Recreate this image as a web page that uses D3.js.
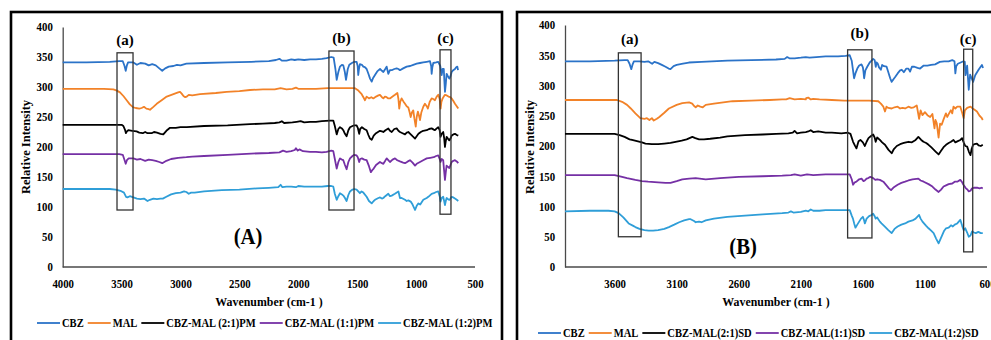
<!DOCTYPE html>
<html><head><meta charset="utf-8">
<script src="https://cdn.jsdelivr.net/npm/d3@7"></script>
<style>
body{margin:0;background:#fff;}
svg{display:block;}
text{font-family:"Liberation Serif","Times New Roman",serif;font-weight:bold;fill:#000;}
</style></head><body>
<svg id="c" width="991" height="340"></svg>
<script>
// ---------------- DATA ----------------
const yTicks = [0,50,100,150,200,250,300,350,400];
const xTicksA = [4000,3500,3000,2500,2000,1500,1000,500];
const xTicksB = [3600,3100,2600,2100,1600,1100,600];
const legendA = ["CBZ","MAL","CBZ-MAL (2:1)PM","CBZ-MAL (1:1)PM","CBZ-MAL (1:2)PM"];
const legendB = ["CBZ","MAL","CBZ-MAL(2:1)SD","CBZ-MAL(1:1)SD","CBZ-MAL(1:2)SD"];
const seriesColors = ["#2B73C8","#F28228","#000000","#7530A5","#2F9ED8"];

// Panel A: physical mixtures  [wavenumber, intensity]
const cbzPM = [[4000,341],[3800,341],[3600,342],[3520,343],[3490,343],[3475,335],[3465,327],[3455,336],[3445,341],[3400,341],[3370,337],[3340,340],[3300,339],[3270,336],[3240,338],[3210,336],[3180,331],[3155,327],[3130,331],[3100,334],[3060,335],[3030,337],[3000,336],[2950,339],[2800,340],[2600,341],[2400,342],[2250,343],[2190,345],[2160,347],[2140,344],[2100,344],[2060,346],[2030,345],[2000,346],[1950,345],[1900,346],[1850,346],[1800,347],[1760,348],[1720,350],[1700,349],[1685,330],[1674,312],[1660,325],[1646,334],[1630,337],[1618,336],[1605,325],[1595,312],[1580,330],[1567,337],[1545,340],[1525,342],[1505,342],[1496,335],[1491,320],[1485,330],[1477,338],[1460,337],[1448,334],[1435,333],[1420,330],[1405,322],[1391,314],[1377,309],[1365,315],[1349,320],[1330,326],[1306,330],[1290,327],[1278,325],[1262,330],[1250,334],[1236,322],[1222,328],[1207,328],[1185,330],[1165,331],[1150,330],[1137,328],[1110,331],[1080,334],[1050,335],[1024,337],[995,339],[967,340],[940,341],[910,342],[882,343],[872,335],[868,322],[862,333],[854,340],[830,341],[812,342],[795,335],[783,320],[775,330],[765,330],[760,310],[755,292],[748,305],[741,322],[730,318],[718,314],[708,318],[698,325],[685,328],[670,330],[660,333],[650,334],[644,328]];
const malPM = [[4000,297],[3800,297],[3650,297],[3570,296],[3540,294],[3514,291],[3485,285],[3457,278],[3430,271],[3401,266],[3380,265],[3350,264],[3330,265],[3310,267],[3290,264],[3270,263],[3259,262],[3235,266],[3202,272],[3160,278],[3117,284],[3060,288],[3020,291],[3004,292],[2990,289],[2975,285],[2960,283],[2947,284],[2930,287],[2900,286],[2834,288],[2700,290],[2608,292],[2500,293],[2410,295],[2300,296],[2200,296],[2150,298],[2100,296],[2050,297],[2020,299],[2000,297],[1950,297],[1850,297],[1750,298],[1650,298],[1550,298],[1519,298],[1490,294],[1462,288],[1445,282],[1434,278],[1420,284],[1400,281],[1380,283],[1363,281],[1340,284],[1320,286],[1307,287],[1290,283],[1278,281],[1265,284],[1250,283],[1236,281],[1222,281],[1200,284],[1179,287],[1159,290],[1150,280],[1143,264],[1135,275],[1123,281],[1108,276],[1094,272],[1080,268],[1066,266],[1055,258],[1046,250],[1035,258],[1024,261],[1015,248],[1003,234],[995,250],[985,259],[975,252],[967,245],[955,258],[939,267],[925,272],[910,268],[900,264],[885,275],[868,281],[855,280],[840,278],[825,284],[812,287],[800,280],[792,264],[785,275],[775,281],[765,284],[755,287],[740,286],[725,284],[710,283],[698,281],[685,277],[670,272],[655,268],[642,264]];
const pm21 = [[4000,237],[3800,237],[3600,237],[3500,237],[3485,235],[3470,228],[3463,223],[3455,226],[3443,228],[3410,227],[3373,226],[3350,224],[3320,223],[3300,225],[3280,223],[3260,223],[3245,223],[3225,225],[3200,224],[3170,222],[3146,221],[3120,227],[3089,232],[3040,232],[3000,233],[2947,233],[2800,235],[2600,236],[2410,238],[2300,239],[2200,240],[2160,241],[2140,243],[2120,240],[2050,241],[2014,242],[1980,243],[1950,241],[1900,242],[1850,242],[1800,243],[1731,244],[1703,244],[1690,235],[1674,221],[1660,230],[1646,233],[1630,231],[1618,228],[1604,222],[1590,218],[1575,228],[1561,233],[1540,235],[1525,236],[1505,236],[1495,232],[1483,222],[1475,230],[1460,233],[1440,230],[1420,228],[1405,220],[1391,214],[1377,212],[1360,219],[1340,223],[1307,227],[1290,226],[1278,225],[1260,228],[1236,231],[1222,227],[1207,225],[1185,230],[1165,231],[1150,227],[1137,225],[1115,223],[1094,221],[1080,224],[1066,225],[1050,222],[1030,218],[1009,214],[995,218],[980,222],[960,225],[940,227],[910,228],[890,230],[868,231],[850,229],[840,228],[825,231],[812,233],[800,228],[792,217],[783,222],[770,225],[762,215],[755,200],[748,210],[741,217],[730,214],[718,211],[708,214],[698,219],[684,221],[670,222],[655,220],[642,219]];
const pm11 = [[4000,188],[3800,188],[3600,188],[3520,188],[3490,187],[3478,180],[3465,172],[3455,178],[3440,181],[3400,181],[3370,179],[3340,180],[3300,177],[3270,179],[3240,178],[3210,177],[3180,175],[3155,173],[3120,177],[3080,180],[3020,182],[2950,183],[2900,184],[2800,185],[2600,187],[2400,189],[2250,190],[2160,191],[2130,194],[2100,192],[2060,193],[2030,195],[2020,198],[2005,194],[1990,196],[1960,193],[1900,192],[1850,192],[1800,191],[1760,192],[1720,194],[1703,193],[1690,180],[1674,164],[1660,175],[1646,181],[1630,179],[1618,178],[1604,170],[1590,163],[1575,175],[1561,181],[1540,185],[1525,187],[1505,186],[1495,183],[1483,175],[1475,180],[1460,181],[1440,179],[1420,178],[1400,168],[1384,158],[1370,162],[1360,164],[1340,170],[1307,175],[1290,173],[1278,172],[1262,177],[1250,181],[1236,178],[1222,175],[1200,179],[1179,181],[1160,178],[1137,176],[1110,174],[1094,173],[1070,176],[1052,178],[1030,174],[1009,169],[995,172],[967,175],[940,178],[910,181],[880,182],[850,183],[830,185],[812,186],[800,180],[792,175],[783,180],[770,178],[762,160],[755,145],[748,158],[741,169],[730,167],[718,165],[708,170],[698,175],[684,177],[670,178],[655,176],[642,173]];
const pm12 = [[4000,130],[3800,130],[3600,130],[3550,129],[3510,127],[3480,124],[3462,117],[3450,116],[3430,118],[3400,116],[3370,114],[3340,113],[3310,114],[3280,110],[3260,112],[3230,114],[3200,113],[3170,114],[3150,114],[3120,117],[3080,121],[3040,123],[3000,124],[2970,126],[2950,125],[2930,122],[2910,124],[2880,124],[2800,126],[2650,128],[2500,129],[2350,131],[2250,132],[2170,133],[2150,137],[2135,133],[2100,134],[2060,134],[2020,133],[2000,135],[1950,134],[1900,134],[1850,134],[1800,134],[1750,135],[1720,135],[1703,134],[1690,122],[1674,112],[1660,118],[1646,123],[1630,121],[1618,119],[1604,115],[1590,110],[1575,120],[1561,126],[1540,129],[1525,130],[1505,129],[1491,126],[1477,123],[1463,126],[1448,124],[1420,117],[1400,110],[1377,106],[1360,110],[1349,112],[1320,115],[1306,116],[1290,114],[1278,115],[1262,118],[1236,122],[1222,118],[1207,119],[1180,122],[1150,126],[1137,115],[1123,115],[1094,112],[1080,110],[1066,111],[1046,109],[1030,104],[1009,95],[995,102],[980,106],[965,104],[939,112],[910,115],[896,117],[868,122],[850,123],[830,125],[812,126],[800,118],[792,109],[783,115],[770,117],[762,110],[755,103],[748,110],[741,115],[730,113],[718,112],[708,114],[698,117],[684,116],[670,114],[655,112],[642,110]];

// Panel B: solid dispersions
const cbzSD = [[4000,340],[3800,340],[3600,341],[3520,342],[3495,342],[3480,336],[3466,327],[3455,335],[3445,340],[3400,340],[3360,339],[3330,340],[3298,336],[3280,339],[3250,337],[3220,334],[3190,331],[3165,328],[3150,327],[3125,332],[3100,334],[3050,336],[3002,338],[2900,339],[2692,341],[2500,342],[2300,343],[2230,344],[2210,347],[2192,345],[2150,345],[2100,346],[2060,347],[2030,346],[1976,347],[1900,348],[1800,348],[1740,349],[1706,350],[1690,341],[1680,326],[1671,312],[1660,320],[1645,328],[1630,333],[1611,335],[1600,330],[1595,323],[1590,312],[1580,325],[1565,331],[1545,338],[1530,341],[1517,344],[1505,342],[1496,331],[1490,338],[1480,336],[1470,330],[1455,326],[1445,334],[1430,332],[1409,331],[1395,322],[1380,312],[1368,306],[1355,310],[1340,314],[1320,320],[1300,325],[1287,326],[1270,322],[1250,328],[1233,328],[1220,323],[1205,331],[1185,331],[1160,329],[1139,328],[1110,333],[1080,333],[1050,334],[1018,335],[980,339],[945,340],[909,340],[880,342],[862,340],[855,320],[848,332],[835,336],[812,338],[790,340],[779,339],[773,317],[760,333],[747,293],[736,318],[724,312],[712,306],[695,317],[668,326],[641,334],[632,329]];
const malSD = [[4000,276],[3800,276],[3650,276],[3581,276],[3540,273],[3500,268],[3470,262],[3433,254],[3393,246],[3360,245],[3340,246],[3320,243],[3300,246],[3285,242],[3260,245],[3240,248],[3200,255],[3163,262],[3100,268],[3055,271],[3000,272],[2975,270],[2960,266],[2947,264],[2930,267],[2910,265],[2890,264],[2866,268],[2800,270],[2650,274],[2500,275],[2350,276],[2250,277],[2218,277],[2190,279],[2150,277],[2100,278],[2060,277],[2057,279],[2040,280],[2020,277],[2000,278],[1950,277],[1850,276],[1750,275],[1650,275],[1550,275],[1476,274],[1455,270],[1435,265],[1422,257],[1410,265],[1395,263],[1368,262],[1345,264],[1320,265],[1300,262],[1280,263],[1260,262],[1233,265],[1210,263],[1190,264],[1166,267],[1147,245],[1135,259],[1120,251],[1100,256],[1080,251],[1058,248],[1040,253],[1023,229],[1015,243],[1005,238],[990,214],[978,237],[965,235],[950,244],[931,254],[920,248],[900,256],[891,259],[880,254],[870,265],[855,262],[840,265],[815,265],[800,255],[788,246],[778,259],[760,263],[733,265],[715,262],[700,260],[681,257],[660,250],[645,247],[634,243]];
const sd21 = [[4000,220],[3800,220],[3650,220],[3600,220],[3560,218],[3520,215],[3480,211],[3460,210],[3420,208],[3380,206],[3352,204],[3300,203],[3250,203],[3200,204],[3150,205],[3109,207],[3060,209],[3020,211],[2974,215],[2950,213],[2920,211],[2880,211],[2830,212],[2750,214],[2692,216],[2550,218],[2408,219],[2300,220],[2200,221],[2165,222],[2150,225],[2130,221],[2100,222],[2060,223],[2040,224],[2020,226],[2000,223],[1960,224],[1900,222],[1850,222],[1773,221],[1720,222],[1700,220],[1679,207],[1665,201],[1652,196],[1635,208],[1620,210],[1600,206],[1584,200],[1570,207],[1555,213],[1537,216],[1517,219],[1505,214],[1497,207],[1485,214],[1463,210],[1445,206],[1422,202],[1395,194],[1368,188],[1350,195],[1327,200],[1300,203],[1270,205],[1233,207],[1205,206],[1175,210],[1153,215],[1130,210],[1112,207],[1090,205],[1071,202],[1050,198],[1030,194],[1010,190],[990,186],[970,192],[950,198],[930,202],[909,205],[890,207],[870,210],[855,206],[835,208],[815,210],[801,213],[788,206],[775,200],[760,199],[745,190],[733,185],[724,195],[712,202],[700,203],[681,204],[668,201],[650,200],[634,202]];
const sd11 = [[4000,152],[3800,152],[3650,152],[3600,152],[3540,149],[3500,147],[3433,144],[3380,142],[3330,141],[3250,140],[3190,139],[3150,139],[3100,142],[3055,145],[3000,146],[2947,147],[2866,145],[2750,147],[2600,149],[2408,150],[2250,151],[2180,152],[2150,153],[2100,151],[2050,153],[2000,152],[1900,153],[1800,153],[1706,153],[1690,145],[1679,136],[1665,140],[1652,141],[1630,145],[1611,146],[1595,142],[1584,143],[1570,146],[1557,147],[1540,149],[1517,147],[1500,144],[1485,145],[1463,144],[1435,141],[1410,135],[1390,130],[1373,127],[1350,132],[1320,136],[1290,139],[1260,141],[1233,143],[1200,145],[1153,146],[1135,143],[1110,141],[1071,137],[1040,133],[1015,128],[990,124],[970,128],[950,133],[930,135],[909,137],[880,138],[860,141],[840,141],[815,144],[800,140],[790,136],[770,130],[758,128],[747,125],[733,126],[720,130],[705,131],[680,131],[660,130],[645,131],[634,130]];
const sd12 = [[4000,92],[3800,93],[3650,93],[3600,92],[3568,89],[3530,82],[3487,72],[3450,68],[3433,66],[3400,63],[3360,61],[3326,60],[3290,60],[3250,61],[3200,63],[3163,66],[3120,70],[3080,74],[3040,77],[3000,79],[2988,79],[2960,76],[2947,74],[2920,75],[2900,74],[2866,77],[2800,80],[2692,83],[2550,85],[2408,87],[2250,89],[2200,90],[2180,92],[2160,90],[2100,91],[2060,93],[2040,92],[2020,95],[2000,93],[1950,93],[1900,94],[1800,94],[1706,94],[1690,85],[1680,80],[1670,72],[1660,65],[1645,70],[1630,75],[1615,80],[1600,83],[1590,77],[1584,72],[1570,80],[1550,84],[1530,86],[1517,88],[1505,84],[1497,80],[1485,82],[1463,75],[1450,72],[1425,67],[1395,61],[1368,56],[1345,63],[1320,67],[1290,70],[1260,72],[1233,75],[1200,77],[1175,80],[1147,86],[1135,80],[1120,75],[1090,68],[1071,64],[1050,60],[1030,56],[1010,47],[990,39],[975,46],[960,53],[945,60],[930,64],[909,65],[890,69],[875,67],[860,70],[840,72],[815,78],[800,68],[788,61],[775,64],[760,57],[747,50],[733,52],[720,59],[705,57],[690,56],[670,58],[650,56],[634,56]];

// annotation boxes: [label, wavenumber from, wavenumber to, top value, bottom value, label value]
const boxesA = [["(a)",3539,3403,357,95,370],["(b)",1740,1527,360,95,373],["(c)",797,704,362,88,373]];
const boxesB = [["(a)",3570,3387,354,50,369],["(b)",1723,1527,359,48,378],["(c)",788,715,360,25,369]];

// ---------------- DRAW ----------------
const svg = d3.select("#c");

function drawPanel(cfg){
  const g = svg.append("g");
  g.append("rect").attr("x",cfg.frame[0]).attr("y",cfg.frame[1]).attr("width",cfg.frame[2]).attr("height",cfg.frame[3])
    .attr("fill","none").attr("stroke","#000").attr("stroke-width",2.6);

  const x = d3.scaleLinear().domain(cfg.xDomain).range(cfg.xRange);
  const y = d3.scaleLinear().domain([0,400]).range(cfg.yRange);

  // axes
  const xa = g.append("g").attr("transform",`translate(0,${cfg.yRange[0]})`)
    .call(d3.axisBottom(x).tickValues(cfg.xTicks).tickSize(0).tickPadding(12).tickFormat(d3.format("d")));
  const ya = g.append("g").attr("transform",`translate(${cfg.xRange[0]},0)`)
    .call(d3.axisLeft(y).tickValues(yTicks).tickSize(0).tickPadding(11).tickFormat(d3.format("d")));
  [xa,ya].forEach(a=>{
    a.select(".domain").attr("stroke","#4a4a4a").attr("stroke-width",1.3);
    a.selectAll("text").attr("font-size",12).attr("font-family",'"Liberation Serif",serif').attr("font-weight","bold")
      .attr("fill","#000").attr("transform","scale(0.9,1)");
  });
  xa.select(".domain").attr("d",`M${cfg.xRange[0]},0H${cfg.xAxisEnd}`);

  // series
  const line = d3.line().x(d=>x(d[0])).y(d=>y(d[1]));
  cfg.series.forEach((s,i)=>{
    g.append("path").datum(s).attr("d",line).attr("fill","none")
      .attr("stroke",seriesColors[i]).attr("stroke-width",1.8).attr("stroke-linejoin","round");
  });

  // annotation boxes
  cfg.boxes.forEach(b=>{
    const x0=x(b[1]), x1=x(b[2]), y0=y(b[3]), y1=y(b[4]);
    g.append("rect").attr("x",x0).attr("y",y0).attr("width",x1-x0).attr("height",y1-y0)
      .attr("fill","none").attr("stroke","#333").attr("stroke-width",1.3);
    g.append("text").attr("text-anchor","middle").attr("font-size",15.5)
      .attr("transform",`translate(${(x0+x1)/2},${y(b[5])}) scale(0.97,1)`).text(b[0]);
  });

  // panel label
  g.append("text").attr("text-anchor","middle").attr("font-size",23)
    .attr("transform",`translate(${x(cfg.panelPos[0])},${y(cfg.panelPos[1])}) scale(0.9,1)`).text(cfg.panelLabel);

  // axis titles
  g.append("text").attr("text-anchor","middle").attr("font-size",12.5)
    .attr("transform",`translate(${cfg.xTitlePos[0]},${cfg.xTitlePos[1]}) scale(0.95,1)`).text("Wavenumber (cm-1 )");
  g.append("text").attr("text-anchor","middle").attr("font-size",12.5)
    .attr("transform",`translate(${cfg.yTitlePos[0]},${cfg.yTitlePos[1]}) rotate(-90)`).text("Relative Intensity");

  // legend
  let lx = cfg.legendPos[0];
  const ly = cfg.legendPos[1];
  cfg.legend.forEach((name,i)=>{
    g.append("line").attr("x1",lx).attr("x2",lx+23).attr("y1",ly).attr("y2",ly)
      .attr("stroke",seriesColors[i]).attr("stroke-width",1.8);
    const t = g.append("text").attr("font-size",11.8).attr("transform",`translate(${lx+25},${ly+4}) scale(0.895,1)`).text(name);
    const w = t.node().getComputedTextLength()*0.895;
    lx = lx + 25 + w + 4;
  });
}

drawPanel({
  frame:[11,12,491,340], xDomain:[4000,500], xRange:[62.7,475], xAxisEnd:475, yRange:[267,27],
  xTicks:xTicksA, series:[cbzPM,malPM,pm21,pm11,pm12], boxes:boxesA,
  panelLabel:"(A)", panelPos:[2427,38], xTitlePos:[269,306], yTitlePos:[30,147],
  legend:legendA, legendPos:[37,323]
});
drawPanel({
  frame:[517,12,480,340], xDomain:[4000,600], xRange:[565,987], xAxisEnd:987, yRange:[267,25],
  xTicks:xTicksB, series:[cbzSD,malSD,sd21,sd11,sd12], boxes:boxesB,
  panelLabel:"(B)", panelPos:[2565,21], xTitlePos:[776,306], yTitlePos:[534,147],
  legend:legendB, legendPos:[538,333]
});
</script>
</body></html>
